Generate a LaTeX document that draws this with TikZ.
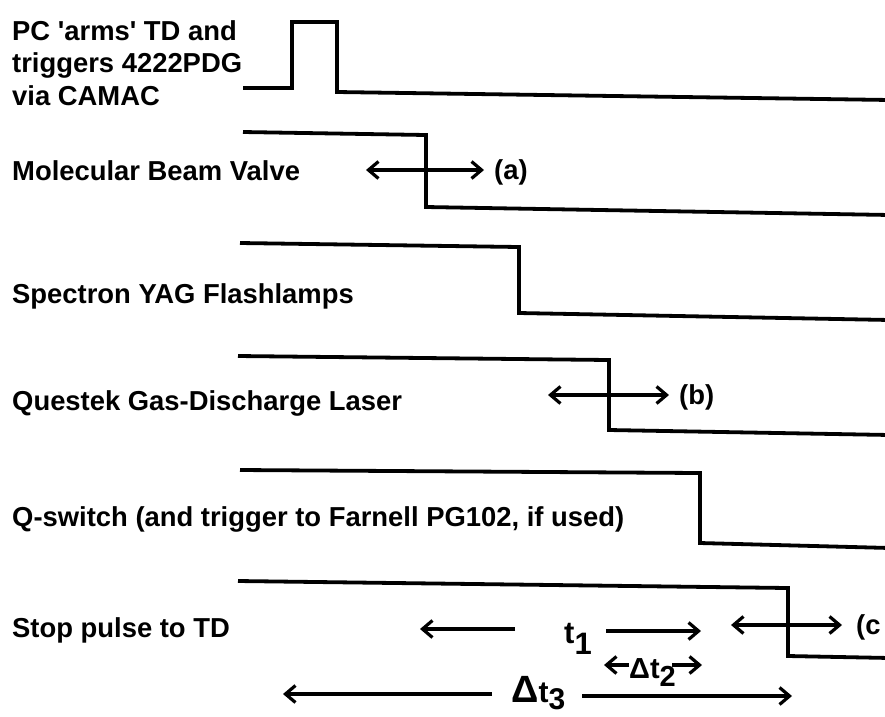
\documentclass[tikz,border=0pt]{standalone}
\usepackage{fontspec}
\setmainfont{Liberation Sans}
\usetikzlibrary{arrows.meta}

\newcommand{\lblsize}{\fontsize{27.4}{32.5}\selectfont\bfseries}
\newcommand{\lowidx}[2]{\raisebox{-#1}{#2}}

\tikzset{
  signal/.style={line width=3.8pt,line join=miter},
  span/.style={line width=3.2pt},
  lbl/.style={inner sep=0pt,font=\lblsize},
}

\begin{document}
\begin{tikzpicture}[>={Straight Barb[length=10pt,width=17pt]},x=1pt,y=-1pt]
\clip (0,0) rectangle (885,716);

% channel names
\node[lbl,align=left,anchor=base west] (pc) at (12,105) {PC \textquotesingle arms\textquotesingle\ TD and\\triggers 4222PDG\\via CAMAC};
\node[lbl,anchor=base west] (valve) at (12,180) {Molecular Beam Valve};
\node[lbl,anchor=base west] (flash) at (12,303) {Spectron YAG Flashlamps};
\node[lbl,anchor=base west] (questek) at (12,410) {Questek Gas-Discharge Laser};
\node[lbl,anchor=base west] (qswitch) at (12,526) {Q-switch (and trigger to Farnell PG102, if used)};
\node[lbl,anchor=base west] (stop) at (12,637) {Stop pulse to TD};

% timing traces (slight skew as in the scan)
\draw[signal] (243,88) -- (292,88) -- (292,22) -- (337,22) -- (337,92) -- (890,100);
\draw[signal] (243,132) -- (426,135) -- (426,207) -- (890,215);
\draw[signal] (240,243) -- (519,247) -- (519,313) -- (890,320);
\draw[signal] (238,356) -- (609,360) -- (609,430) -- (890,435);
\draw[signal] (240,470) -- (700,473) -- (700,543) -- (890,548);
\draw[signal] (238,581) -- (788,588) -- (788,656) -- (890,658);

% jitter ranges (a), (b), (c)
\coordinate (aL) at (366,170);
\coordinate (aR) at (484,170);
\draw[span,<->] (aL) -- (aR);
\node[lbl,anchor=base west] (la) at (494,179) {(a)};

\coordinate (bL) at (548,395);
\coordinate (bR) at (669,395);
\draw[span,<->] (bL) -- (bR);
\node[lbl,anchor=base west] (lb) at (679,404) {(b)};

\coordinate (cL) at (731,625);
\coordinate (cR) at (842,625);
\draw[span,<->] (cL) -- (cR);
\node[lbl,anchor=base west] (lc) at (856,634) {(c};

% delays t1, Delta t2, Delta t3
\node[lbl,anchor=base west] (t1) at (564,643) {\fontsize{31}{31}\selectfont t\lowidx{11pt}{1}};
\coordinate (t1a) at (515,629);
\coordinate (t1b) at (420,629);
\coordinate (t1c) at (606,631);
\coordinate (t1d) at (701,631);
\draw[span,->] (t1a) -- (t1b);
\draw[span,->] (t1c) -- (t1d);

\node[lbl,anchor=base west] (dt2) at (629,678) {\fontsize{29}{29}\selectfont Δt\lowidx{8pt}{2}};
\coordinate (dt2a) at (604,665);
\coordinate (dt2b) at (702,665);
\draw[span,->] (dt2.west |- dt2a) -- (dt2a);
\draw[span,->] ([xshift=-4pt]dt2.east |- dt2b) -- (dt2b);

\node[lbl,anchor=base west] (dt3) at (511,702) {\fontsize{38}{38}\selectfont Δ\fontsize{30}{30}\selectfont t\lowidx{7pt}{3}};
\coordinate (dt3a) at (492,694);
\coordinate (dt3b) at (283,694);
\coordinate (dt3c) at (582,696);
\coordinate (dt3d) at (792,696);
\draw[span,->] (dt3a) -- (dt3b);
\draw[span,->] (dt3c) -- (dt3d);

\end{tikzpicture}
\end{document}
